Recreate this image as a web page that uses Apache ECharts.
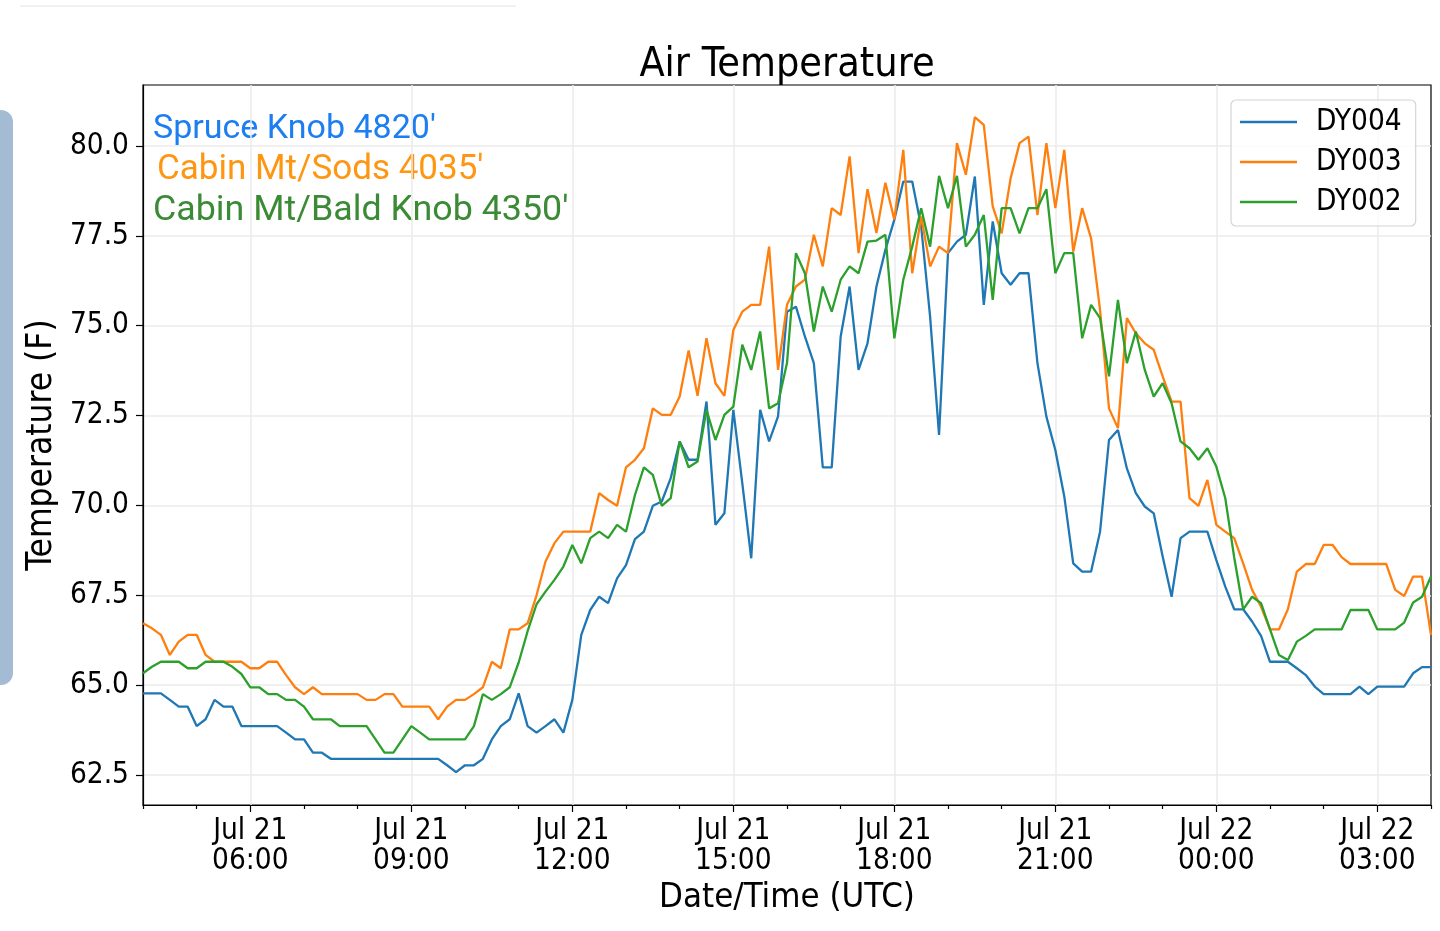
<!DOCTYPE html>
<html>
<head>
<meta charset="utf-8">
<script src="https://cdn.jsdelivr.net/npm/echarts@6/dist/echarts.min.js"></script>
<style>
html,body{margin:0;padding:0;background:#ffffff;}
#chart{width:1440px;height:931px;}
</style>
</head>
<body>
<div id="chart"></div>
<script>
// ---- data (10-minute readings, Jul 21 04:00 UTC .. Jul 22 04:00 UTC) ----
const seriesNames = ['DY004', 'DY003', 'DY002'];

const dy004 = [
64.77,64.77,64.77,64.59,64.40,64.40,63.86,64.05,64.59,64.40,
64.40,63.86,63.86,63.86,63.86,63.86,63.68,63.49,63.49,63.12,
63.12,62.95,62.95,62.95,62.95,62.95,62.95,62.95,62.95,62.95,
62.95,62.95,62.95,62.95,62.77,62.58,62.77,62.77,62.95,63.49,
63.86,64.05,64.77,63.86,63.68,63.86,64.05,63.68,64.59,66.40,
67.09,67.46,67.28,67.97,68.34,69.06,69.27,69.99,70.11,70.76,
71.78,71.27,71.27,72.89,69.46,69.78,72.66,70.62,68.53,72.66,
71.78,72.48,75.39,75.53,74.70,73.96,71.06,71.06,74.70,76.09,
73.77,74.51,76.09,77.11,77.95,79.01,79.01,77.76,75.25,71.96,
77.02,77.34,77.53,79.15,75.58,77.90,76.46,76.14,76.46,76.46,
73.96,72.47,71.54,70.25,68.39,68.16,68.16,69.27,71.82,72.10,
71.03,70.34,69.97,69.78,68.58,67.46,69.09,69.27,69.27,69.27,
68.48,67.74,67.11,67.11,66.77,66.37,65.65,65.65,65.65,65.47,
65.28,64.96,64.75,64.75,64.75,64.75,64.96,64.75,64.96,64.96,
64.96,64.96,65.33,65.50,65.50
];

const dy003 = [
66.72,66.58,66.40,65.84,66.21,66.40,66.40,65.84,65.65,65.65,
65.65,65.65,65.47,65.47,65.65,65.65,65.28,64.94,64.75,64.94,
64.75,64.75,64.75,64.75,64.75,64.59,64.59,64.75,64.75,64.40,
64.40,64.40,64.40,64.05,64.40,64.59,64.59,64.75,64.94,65.65,
65.47,66.55,66.55,66.72,67.50,68.44,68.95,69.27,69.27,69.27,
69.27,70.34,70.15,69.99,71.06,71.27,71.59,72.70,72.52,72.52,
73.03,74.31,73.05,74.65,73.40,73.05,74.88,75.39,75.58,75.58,
77.20,73.77,75.58,76.09,76.28,77.53,76.65,78.27,78.08,79.71,
77.02,78.80,77.58,78.98,77.95,79.89,76.46,78.04,76.65,77.20,
77.02,80.08,79.20,80.80,80.59,78.32,77.57,79.10,80.08,80.26,
78.08,80.08,78.27,79.89,77.06,78.27,77.43,75.44,72.70,72.15,
75.21,74.79,74.51,74.33,73.59,72.89,72.89,70.20,69.99,70.71,
69.46,69.27,69.09,68.39,67.65,67.18,66.55,66.55,67.11,68.16,
68.37,68.37,68.90,68.90,68.56,68.37,68.37,68.37,68.37,68.37,
67.65,67.48,68.02,68.02,66.40
];

const dy002 = [
65.33,65.51,65.65,65.65,65.65,65.47,65.47,65.65,65.65,65.65,
65.51,65.31,64.94,64.94,64.75,64.75,64.59,64.59,64.40,64.05,
64.05,64.05,63.86,63.86,63.86,63.86,63.49,63.12,63.12,63.49,
63.86,63.68,63.49,63.49,63.49,63.49,63.49,63.86,64.75,64.59,
64.75,64.94,65.63,66.50,67.25,67.60,67.93,68.30,68.90,68.39,
69.09,69.27,69.09,69.46,69.27,70.29,71.06,70.85,69.99,70.20,
71.78,71.06,71.22,72.66,71.82,72.52,72.75,74.47,73.77,74.84,
72.70,72.84,73.96,77.02,76.46,74.84,76.09,75.39,76.28,76.65,
76.46,77.34,77.37,77.53,74.65,76.28,77.20,78.27,77.20,79.17,
78.27,79.17,77.20,77.53,78.08,75.72,78.27,78.27,77.57,78.27,
78.27,78.80,76.46,77.02,77.02,74.65,75.58,75.21,73.59,75.72,
73.96,74.84,73.77,73.03,73.40,72.84,71.78,71.59,71.27,71.59,
71.08,70.20,68.55,67.11,67.46,67.28,66.55,65.84,65.70,66.21,
66.37,66.55,66.55,66.55,66.55,67.09,67.09,67.09,66.55,66.55,
66.55,66.74,67.30,67.46,68.02
];

const yTicks = [62.5, 65.0, 67.5, 70.0, 72.5, 75.0, 77.5, 80.0];
const stationLabels = ["Spruce Knob 4820'", "Cabin Mt/Sods 4035'", "Cabin Mt/Bald Knob 4350'"];
const stationColors = ['#1c7ef0', '#ff9612', '#3b8a36'];
const lineColors = ['#1f77b4', '#ff7f0e', '#2ca02c'];

// time categories: start Jul 21 04:00, step 10 minutes
const startMinute = 4 * 60;
const stepMinute = 10;
const startDay = 21;
const times = dy004.map(function (_, i) {
  const m = startMinute + i * stepMinute;
  const day = startDay + Math.floor(m / 1440);
  const hh = Math.floor((m % 1440) / 60);
  const mm = m % 60;
  return 'Jul ' + day + '\n' + String(hh).padStart(2, '0') + ':' + String(mm).padStart(2, '0');
});

// ---- chart ----
const FF = "'DejaVu Sans Condensed','DejaVu Sans',sans-serif";
const isMajor = function (idx) { return idx % 18 === 12; };
const isMinor = function (idx) { return idx % 6 === 0 && idx % 18 !== 12; };

const chart = echarts.init(document.getElementById('chart'), null, { renderer: 'canvas' });

const seriesData = [dy004, dy003, dy002];

chart.setOption({
  animation: false,
  backgroundColor: '#ffffff',
  title: {
    text: 'Air Temperature',
    left: 787,
    top: 44,
    textAlign: 'center',
    padding: 0,
    textStyle: { fontFamily: FF, fontSize: 41, fontWeight: 'normal', color: '#000', lineHeight: 42 }
  },
  grid: {
    left: 143, right: 9, top: 85, bottom: 126,
    show: true, borderColor: '#000', borderWidth: 1.2, backgroundColor: 'transparent'
  },
  legend: {
    orient: 'vertical',
    left: 1231, top: 100,
    data: seriesNames,
    icon: 'rect',
    itemWidth: 57, itemHeight: 2.5, itemGap: 10,
    padding: [7, 14, 9, 9],
    backgroundColor: 'rgba(255,255,255,0.8)',
    borderColor: '#d4d4d4', borderWidth: 1.2, borderRadius: 5,
    textStyle: { fontFamily: FF, fontSize: 29.5, lineHeight: 30, color: '#000', padding: [0, 0, 0, 14] }
  },
  xAxis: [{
    type: 'category',
    data: times,
    boundaryGap: false,
    name: 'Date/Time (UTC)',
    nameLocation: 'middle',
    nameGap: 68,
    nameTextStyle: { fontFamily: FF, fontSize: 34.5, color: '#000' },
    axisLine: { show: true, lineStyle: { color: '#000', width: 1.2 } },
    axisTick: { show: true, length: 7, interval: isMajor, lineStyle: { color: '#000', width: 1.2 } },
    axisLabel: { interval: isMajor, fontFamily: FF, fontSize: 29.5, lineHeight: 30, color: '#000', margin: 11 },
    splitLine: { show: true, interval: isMajor, lineStyle: { color: '#ebebeb', width: 1.5 } }
  }, {
    type: 'category',
    data: times,
    boundaryGap: false,
    position: 'bottom',
    axisLine: { show: false },
    axisTick: { show: true, length: 4, interval: isMinor, lineStyle: { color: '#000', width: 1.2 } },
    axisLabel: { show: false },
    splitLine: { show: false }
  }],
  yAxis: {
    type: 'value',
    min: 61.665, max: 81.697,
    name: 'Temperature (F)',
    nameLocation: 'middle',
    nameGap: 79,
    nameTextStyle: { fontFamily: FF, fontSize: 35, color: '#000' },
    axisLine: { show: true, lineStyle: { color: '#000', width: 1.2 } },
    axisTick: { show: true, length: 7, customValues: yTicks, lineStyle: { color: '#000', width: 1.2 } },
    axisLabel: { customValues: yTicks, formatter: function (v) { return Number(v).toFixed(1); },
      fontFamily: FF, fontSize: 29.5, color: '#000', margin: 14 },
    splitLine: { show: true, lineStyle: { color: '#ebebeb', width: 1.5 } }
  },
  graphic: [
    { type: 'rect', left: -14, top: 110, shape: { width: 27, height: 575, r: 12 }, style: { fill: '#a3bcd4' }, silent: true },
    { type: 'line', shape: { x1: 20, y1: 6, x2: 516, y2: 6 }, style: { stroke: '#ececec', lineWidth: 1.5 }, silent: true },
    { type: 'text', x: 153, y: 129, style: { text: stationLabels[0], fill: stationColors[0], font: "34px Roboto", textVerticalAlign: 'middle' } },
    { type: 'text', x: 157, y: 170, style: { text: stationLabels[1], fill: stationColors[1], font: "35px Roboto", textVerticalAlign: 'middle' } },
    { type: 'text', x: 153, y: 211, style: { text: stationLabels[2], fill: stationColors[2], font: "35.8px Roboto", textVerticalAlign: 'middle' } }
  ],
  series: seriesNames.map(function (n, k) {
    return {
      name: n,
      type: 'line',
      xAxisIndex: 0,
      data: seriesData[k],
      symbol: 'none',
      showSymbol: false,
      color: lineColors[k],
      lineStyle: { width: 2.3, color: lineColors[k] },
      z: 2 + k
    };
  })
});
</script>
</body>
</html>
